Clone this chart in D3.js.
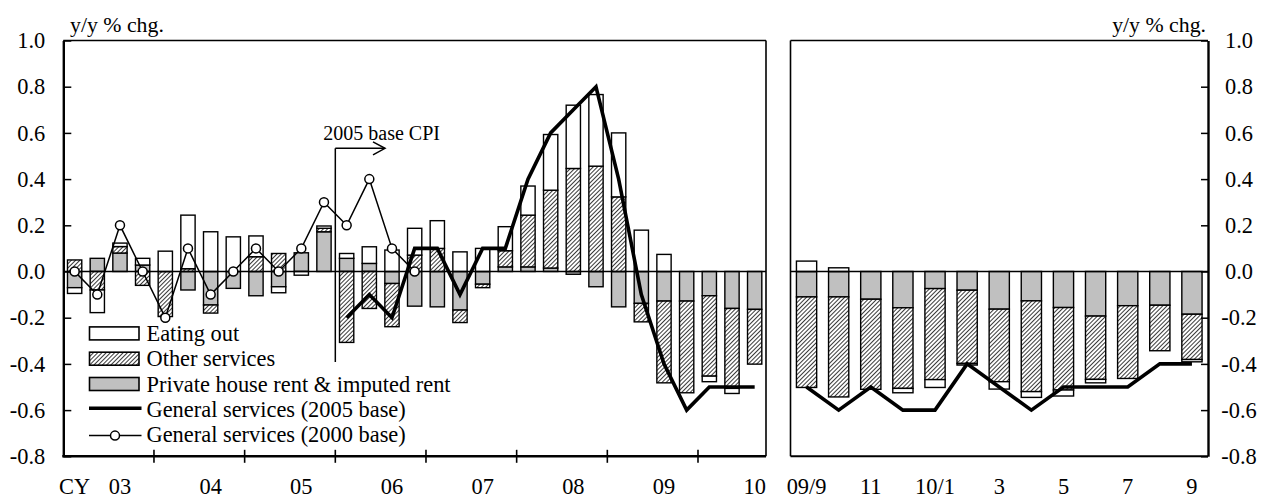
<!DOCTYPE html>
<html><head><meta charset="utf-8">
<script src="https://cdn.jsdelivr.net/npm/d3@7"></script>
<style>
body{margin:0;background:#fff}
svg{display:block}
text{font-family:"Liberation Serif","Times New Roman",serif;fill:#000}
</style>
</head><body>
<svg id="c" width="1270" height="499"></svg>
<script>
// ---------- DATA ----------
const quarterCats = ["03Q1","03Q2","03Q3","03Q4","04Q1","04Q2","04Q3","04Q4",
  "05Q1","05Q2","05Q3","05Q4","06Q1","06Q2","06Q3","06Q4",
  "07Q1","07Q2","07Q3","07Q4","08Q1","08Q2","08Q3","08Q4",
  "09Q1","09Q2","09Q3","09Q4","10Q1","10Q2","10Q3"];
const yearLabels = ["03","04","05","06","07","08","09","10"];
const firstLabel = "CY";

const rentQ   = [-0.070, 0.057, 0.080, 0.028, 0.000,-0.080,-0.145,-0.073,
                 -0.105,-0.066, 0.081, 0.172, 0.057, 0.035,-0.052,-0.150,
                 -0.153,-0.167,-0.055, 0.020, 0.020, 0.015,-0.012,-0.066,
                 -0.153,-0.138,-0.128,-0.128,-0.105,-0.160,-0.164];
const otherQ  = [ 0.050,-0.080, 0.028,-0.060,-0.195, 0.012,-0.035, 0.000,
                  0.064, 0.078, 0.000, 0.015,-0.307,-0.160,-0.187, 0.071,
                  0.100,-0.054,-0.015, 0.070, 0.224, 0.337, 0.446, 0.456,
                  0.323,-0.080,-0.354,-0.397,-0.348,-0.346,-0.237];
const eatingQ = [-0.025,-0.098, 0.015, 0.029, 0.088, 0.232, 0.172, 0.150,
                  0.090,-0.026,-0.016, 0.010, 0.021, 0.072, 0.093, 0.116,
                  0.120, 0.085, 0.100, 0.104, 0.126, 0.241, 0.274, 0.310,
                  0.277, 0.179, 0.074, 0.000,-0.024,-0.022, 0.000];
const general05Q = [null,null,null,null,null,null,null,null,null,null,null,null,
                  -0.2,-0.1,-0.2, 0.1, 0.1,-0.1, 0.1, 0.1, 0.4, 0.6, 0.7, 0.8,
                   0.4,-0.1,-0.4,-0.6,-0.5,-0.5,-0.5];
const general00Q = [ 0.0,-0.1, 0.2, 0.0,-0.2, 0.1,-0.1, 0.0,
                     0.1, 0.0, 0.1, 0.3, 0.2, 0.4, 0.1, 0.0,
                     null,null,null,null,null,null,null,null,
                     null,null,null,null,null,null,null];

const monthCats = ["09/9","09/10","09/11","09/12","10/1","10/2","10/3","10/4","10/5","10/6","10/7","10/8","10/9"];
const monthLabels = ["09/9","","11","","10/1","","3","","5","","7","","9"];
const rentM   = [-0.110,-0.110,-0.120,-0.157,-0.074,-0.081,-0.163,-0.127,-0.156,-0.193,-0.148,-0.146,-0.185];
const otherM  = [-0.392,-0.433,-0.390,-0.349,-0.394,-0.317,-0.314,-0.393,-0.357,-0.274,-0.315,-0.197,-0.196];
const eatingM = [ 0.045, 0.016, 0.000,-0.019,-0.034,-0.007,-0.032,-0.025,-0.026,-0.015, 0.000, 0.000,-0.010];
const general05M = [-0.5,-0.6,-0.5,-0.6,-0.6,-0.4,-0.5,-0.6,-0.5,-0.5,-0.5,-0.4,-0.4];

const yTicks = [-0.8,-0.6,-0.4,-0.2,0.0,0.2,0.4,0.6,0.8,1.0];
const seriesNames = ["Eating out","Other services","Private house rent & imputed rent",
                     "General services (2005 base)","General services (2000 base)"];
const unitLabel = "y/y % chg.";
const noteLabel = "2005 base CPI";

// ---------- SETUP ----------
const svg = d3.select("#c");
const FS = 22.4;
const yTop = 40.5, yBot = 456.3;
const Lx0 = 63.3, Lx1 = 766, Rx0 = 790.5, Rx1 = 1208;
const y = d3.scaleLinear().domain([-0.8, 1.0]).range([yBot, yTop]);
const xL = d3.scaleBand().domain(quarterCats).range([Lx0, Lx1]).paddingInner(0.37).paddingOuter(0.185);
const xR = d3.scaleBand().domain(monthCats).range([Rx0, Rx1]).paddingInner(0.37).paddingOuter(0.185);

const defs = svg.append("defs");
const pat = defs.append("pattern").attr("id","hatch").attr("patternUnits","userSpaceOnUse")
  .attr("width",3).attr("height",3).attr("patternTransform","rotate(45)");
pat.append("rect").attr("width",3).attr("height",3).attr("fill","#fff");
pat.append("line").attr("x1",0.5).attr("y1",0).attr("x2",0.5).attr("y2",3)
  .attr("stroke","#3a3a3a").attr("stroke-width",1);

const fills = {rent:"#c0c0c0", other:"url(#hatch)", eating:"#ffffff"};
const stack = d3.stack().keys(["rent","other","eating"]).offset(d3.stackOffsetDiverging);

function drawBars(x, cats, rent, other, eating) {
  const rows = cats.map((c,i)=>({cat:c, rent:rent[i], other:other[i], eating:eating[i]}));
  const series = stack(rows);
  const g = svg.append("g");
  series.forEach(s => {
    g.selectAll(null).data(s.filter(d => Math.abs(d[1]-d[0]) > 1e-9)).enter().append("rect")
      .attr("x", d => x(d.data.cat))
      .attr("width", x.bandwidth())
      .attr("y", d => y(Math.max(d[0],d[1])))
      .attr("height", d => Math.abs(y(d[0]) - y(d[1])))
      .attr("fill", fills[s.key])
      .attr("stroke","#000").attr("stroke-width",1.4);
  });
}
drawBars(xL, quarterCats, rentQ, otherQ, eatingQ);
drawBars(xR, monthCats, rentM, otherM, eatingM);

// zero lines
svg.append("line").attr("x1",Lx0).attr("x2",Lx1).attr("y1",y(0)).attr("y2",y(0)).attr("stroke","#000").attr("stroke-width",1.4);
svg.append("line").attr("x1",Rx0).attr("x2",Rx1).attr("y1",y(0)).attr("y2",y(0)).attr("stroke","#000").attr("stroke-width",1.4);

// frames
function ln(x1,y1,x2,y2,w){svg.append("line").attr("x1",x1).attr("y1",y1).attr("x2",x2).attr("y2",y2).attr("stroke","#000").attr("stroke-width",w);}
ln(Lx0,yTop,Lx1,yTop,1.6); ln(Lx1,yTop,Lx1,yBot,1.6);
ln(Rx0,yTop,Rx1,yTop,1.6); ln(Rx0,yTop,Rx0,yBot,1.6);
ln(Rx0,yBot,Rx1,yBot,2);

// left y axis
const axL = svg.append("g").attr("transform",`translate(${Lx0},0)`)
  .call(d3.axisLeft(y).tickValues(yTicks).tickSizeInner(-8).tickSizeOuter(0).tickPadding(18).tickFormat(d=>d.toFixed(1)));
axL.select(".domain").attr("stroke-width",2.4);
axL.selectAll(".tick line").attr("stroke-width",1.5);
axL.selectAll("text").attr("font-size",FS).attr("font-family","Liberation Serif");

// right y axis
const axR = svg.append("g").attr("transform",`translate(${Rx1},0)`)
  .call(d3.axisRight(y).tickValues(yTicks).tickSizeInner(-7).tickSizeOuter(0).tickPadding(31).tickFormat(d=>d.toFixed(1)));
axR.select(".domain").attr("stroke-width",2.4);
axR.selectAll(".tick line").attr("stroke-width",1.5);
axR.selectAll("text").attr("font-size",FS).attr("font-family","Liberation Serif").attr("text-anchor","middle");

// left bottom axis
ln(Lx0-1,yBot,Lx1,yBot,2.4);
const stepL = xL.step();
yearLabels.slice(1).forEach(yr => {
  const bx = xL(yr+"Q1") - stepL*xL.paddingInner()/2;
  ln(bx, yBot-6.5, bx, yBot+6.5, 1.6);
});
const XLBL_Y = 494;
const cx = c => xL(c) + xL.bandwidth()/2;
svg.append("text").attr("x",cx(quarterCats[0])).attr("y",XLBL_Y).attr("text-anchor","middle").attr("font-size",FS).text(firstLabel);
yearLabels.forEach(yr => {
  svg.append("text").attr("x",cx(yr+"Q3")).attr("y",XLBL_Y).attr("text-anchor","middle").attr("font-size",FS).text(yr);
});
monthCats.forEach((m,i) => {
  if (!monthLabels[i]) return;
  svg.append("text").attr("x",xR(m)+xR.bandwidth()/2).attr("y",XLBL_Y).attr("text-anchor","middle").attr("font-size",FS).text(monthLabels[i]);
});

// unit labels
svg.append("text").attr("x",70).attr("y",32).attr("font-size",21.8).text(unitLabel);
svg.append("text").attr("x",1206).attr("y",32).attr("text-anchor","end").attr("font-size",21.8).text(unitLabel);

// annotation
const bx05 = xL("06Q1") - stepL*xL.paddingInner()/2;
ln(bx05, 148.3, bx05, 362, 1.5);
ln(bx05, 148.3, 384.5, 148.3, 1.5);
svg.append("polyline").attr("points",`373,141.8 385,148.3 373,154.8`).attr("fill","none").attr("stroke","#000").attr("stroke-width",1.5);
svg.append("text").attr("x",323.3).attr("y",139.5).attr("font-size",20).text(noteLabel);

// lines
const lineL05 = d3.line().defined(d=>d.v!==null).x(d=>cx(d.c)).y(d=>y(d.v));
svg.append("path").datum(quarterCats.map((c,i)=>({c, v:general05Q[i]})))
  .attr("d",lineL05).attr("fill","none").attr("stroke","#000").attr("stroke-width",3.6);
const cxR = c => xR(c) + xR.bandwidth()/2;
svg.append("path").datum(monthCats.map((c,i)=>({c, v:general05M[i]})))
  .attr("d",d3.line().x(d=>cxR(d.c)).y(d=>y(d.v))).attr("fill","none").attr("stroke","#000").attr("stroke-width",3.6);

const d00 = quarterCats.map((c,i)=>({c, v:general00Q[i]})).filter(d=>d.v!==null);
svg.append("path").datum(d00).attr("d",d3.line().x(d=>cx(d.c)).y(d=>y(d.v)))
  .attr("fill","none").attr("stroke","#000").attr("stroke-width",1.5);
svg.selectAll(null).data(d00).enter().append("circle")
  .attr("cx",d=>cx(d.c)).attr("cy",d=>y(d.v)).attr("r",4.5)
  .attr("fill","#fff").attr("stroke","#000").attr("stroke-width",1.5);

// legend
const legY = [333.4, 358.7, 384.0, 409.3, 434.6];
const lg = svg.append("g");
[["eating"],["other"],["rent"]].forEach((k,i)=>{
  lg.append("rect").attr("x",89.5).attr("y",legY[i]-6.5).attr("width",49.5).attr("height",13)
    .attr("fill",fills[k[0]]).attr("stroke","#000").attr("stroke-width",1.6);
});
lg.append("line").attr("x1",89).attr("x2",141.5).attr("y1",legY[3]-1).attr("y2",legY[3]-1).attr("stroke","#000").attr("stroke-width",3.6);
lg.append("line").attr("x1",89).attr("x2",141.5).attr("y1",legY[4]+1).attr("y2",legY[4]+1).attr("stroke","#000").attr("stroke-width",1.5);
lg.append("circle").attr("cx",115).attr("cy",legY[4]+1).attr("r",4.5).attr("fill","#fff").attr("stroke","#000").attr("stroke-width",1.5);
seriesNames.forEach((n,i)=>{
  lg.append("text").attr("x",146.5).attr("y",legY[i]+7.5).attr("font-size",FS).text(n);
});
</script>
</body></html>
